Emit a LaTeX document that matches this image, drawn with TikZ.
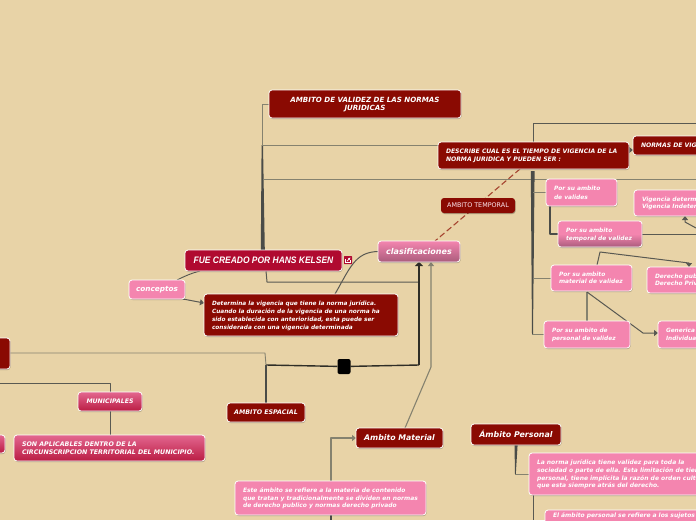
\documentclass[tikz,border=0pt]{standalone}
\usepackage{fontspec}
\setmainfont{DejaVu Sans}
\newfontfamily\liber{Liberation Sans}
\usetikzlibrary{arrows.meta,shadows,backgrounds}
\definecolor{paper}{HTML}{E8D3A7}
\definecolor{maroon}{HTML}{8A0A02}
\definecolor{rubyred}{HTML}{B00A30}
\definecolor{pinkbox}{HTML}{F485AF}
\definecolor{mauveend}{HTML}{AA5C7C}
\definecolor{wiregray}{HTML}{85826F}
\definecolor{wiredark}{HTML}{4A4C48}
\definecolor{dashred}{HTML}{A5432F}
\tikzset{
  x=1pt,y=-1pt,
  basebox/.style={rounded corners=3pt,draw=white,line width=.8pt,inner sep=0pt,outer sep=0pt,
    text=white,
    drop shadow={shadow xshift=.6pt,shadow yshift=-1pt,opacity=.25,fill=black}},
  fs/.style 2 args={font=\fontsize{#1}{#2}\selectfont\bfseries\itshape},
  darkbox/.style={basebox,fill=maroon},
  rubybox/.style={basebox,fill=rubyred},
  pinkb/.style={basebox,fill=pinkbox},
  softgrad/.style={basebox,top color=pinkbox,bottom color=mauveend,middle color=pinkbox},
  mauvegrad/.style={basebox,top color=pinkbox,bottom color=mauveend},
  rosegrad/.style={basebox,top color=pinkbox!75!rubyred,bottom color=rubyred!85!pinkbox},
  thinw/.style={draw=wiregray,line width=.9pt,line join=round},
  midw/.style={draw=wiredark!75!wiregray,line width=1pt,line join=round},
  darkw/.style={draw=wiredark,line width=1.6pt,line join=round},
  blackw/.style={draw=black!65!wiregray,line width=1.4pt,line join=round},
  tapered/.style={fill=wiredark,draw=none},
  tri/.style={-{Triangle[length=4pt,width=6pt]}},
  trib/.style={-{Triangle[length=4pt,width=8pt]}},
}
\newcommand{\bx}[9]{% name, style, x1,y1,x2,y2, inset, l/c, text
  \pgfmathsetmacro{\bxw}{#5-#3-2*#7}%
  \node[#2,minimum width={#5-#3},minimum height={#6-#4}] (#1)
    at ({(#3+#5)/2},{(#4+#6)/2})
    {\raisebox{-.8pt}[\height][\depth]{\makebox[\bxw pt][#8]{\begin{tabular}{@{}#8@{}}#9\end{tabular}}}};}
\begin{document}
\begin{tikzpicture}
\useasboundingbox (0,0) rectangle (696,520);
\clip (0,0) rectangle (696,520);
\begin{scope}[on background layer]
\fill[paper] (0,0) rectangle (696,520);
\end{scope}

\bx{avj}{darkbox,fs={7.1}{8.8}}{269}{90}{461}{118}{6}{c}{AMBITO DE VALIDEZ DE LAS NORMAS\\JURIDICAS}
\bx{desc}{darkbox,fs={6.1}{8}}{438}{142}{629}{169}{8}{l}{DESCRIBE CUAL ES EL TIEMPO DE VIGENCIA DE LA\\NORMA JURIDICA Y PUEDEN SER :}
\bx{normas}{darkbox,fs={6.1}{8}}{633}{136}{760}{155}{8}{l}{NORMAS DE VIGENCIA}
\node[darkbox,draw=none,minimum width=74pt,minimum height=15pt,font=\fontsize{6.4}{7}\selectfont,text=white!80!pinkbox] (atemp) at (478,205.5) {AMBITO TEMPORAL};
\bx{clas}{mauvegrad,fs={8}{10}}{378}{241}{460}{262}{2}{c}{clasificaciones}
\bx{fue}{rubybox,font=\liber\fontsize{9.4}{11}\selectfont\bfseries\itshape}{185}{250}{342}{271}{2}{c}{\scalebox{.9}[1]{FUE CREADO POR HANS KELSEN}}
\bx{conc}{pinkb,fs={7.3}{8}}{129}{280}{185}{299}{2}{c}{conceptos}
\bx{det}{darkbox,fs={5.8}{7.8}}{204}{294}{398}{336}{8}{l}{Determina la vigencia que tiene la norma jurídica.\\Cuando la duración de la vigencia de una norma ha\\sido establecida con anterioridad, esta puede ser\\considerada con una vigencia determinada}
\bx{pv}{pinkb,fs={5.9}{8.2}}{546}{179}{617}{206}{8}{l}{Por su ambito\\de valides}
\bx{vig}{pinkb,fs={5.9}{7}}{634}{190}{770}{216}{8}{l}{Vigencia determinada\\Vigencia Indeterminada}
\bx{pt}{softgrad,fs={5.9}{8}}{558}{221}{642}{247}{8}{l}{Por su ambito\\temporal de validez}
\bx{pm}{pinkb,fs={5.9}{7.4}}{551}{265}{632}{291}{8}{l}{Por su ambito\\material de validez}
\bx{dp}{pinkb,fs={5.9}{7.2}}{647}{267}{760}{293}{8}{l}{Derecho publico\\Derecho Privado}
\bx{pp}{pinkb,fs={5.8}{8}}{544}{321}{630}{348}{8}{l}{Por su ambito de\\personal de validez}
\bx{gen}{pinkb,fs={5.8}{8}}{658}{321}{760}{348}{8}{l}{Generica\\Individual}
\bx{lft}{darkbox,fs={6.4}{8}}{-30}{338}{10}{369}{2}{c}{\mbox{}}
\bx{mun}{rosegrad,fs={6.2}{7}}{78}{392}{142}{411}{2}{c}{MUNICIPALES}
\bx{stub}{rosegrad,fs={6.2}{7}}{-20}{435}{5}{453}{2}{c}{\mbox{}}
\bx{son}{rosegrad,fs={6.3}{7.6}}{14}{435}{205}{461}{8}{l}{SON APLICABLES DENTRO DE LA\\CIRCUNSCRIPCION TERRITORIAL DEL MUNICIPIO.}
\bx{esp}{darkbox,fs={6.3}{7}}{227}{403}{305}{422}{2}{c}{AMBITO ESPACIAL}
\bx{mat}{darkbox,fs={7.8}{9}}{356}{428}{443}{448}{2}{c}{Ambito Material}
\bx{per}{darkbox,fs={7.9}{9}}{471}{424}{561}{445}{2}{c}{Ámbito Personal}
\bx{este}{pinkb,fs={5.95}{7.5}}{235}{481}{426}{515}{8}{l}{Este ámbito se refiere a la materia de contenido\\que tratan y tradicionalmente se dividen en normas\\de derecho publico y normas derecho privado}
\bx{lan}{pinkb,fs={6}{7.6}}{529}{453}{730}{495}{8}{l}{La norma jurídica tiene validez para toda la\\sociedad o parte de ella. Esta limitación de tiempo\\personal, tiene implícita la razón de orden cultural\\que esta siempre atrás del derecho.}
\node[softgrad,fs={6}{7.5},minimum width=215pt,minimum height=30pt,anchor=north west,text width=199pt,align=left,text depth=20pt] (ela) at (545,510) {El ámbito personal se refiere a los sujetos};
\node[rounded corners=2pt,fill=black,minimum width=13pt,minimum height=15pt,inner sep=0pt] (sq) at (344,366.5) {};
\node[rounded corners=.5pt,fill=rubyred,minimum size=8pt,inner sep=0pt] (ico) at (348,260) {};
\draw[white,line width=.7pt] (345.8,259) -- (345.8,262.2) -- (350.2,262.2) -- (350.2,260);
\draw[white,line width=.7pt,-{Latex[length=2pt,width=2.5pt]}] (347,261) -- (350.4,257.6);

\begin{scope}[on background layer]
\coordinate (r179) at (696,179);
\coordinate (r123) at (696,123);
\coordinate (r234) at (696,234);
\coordinate (e353) at (265,353);
\coordinate (jsp) at (266,365);
\coordinate (jcl) at (419,365);
\coordinate (l383) at (0,383);
\coordinate (tree) at (533,123);
% tree left of the validity node
\draw[thinw] (avj.west) -- ++(-7,0) coordinate (a1) -- (a1 |- fue.north);
\fill[tapered] (261.6,145) -- (263,145) -- (264.8,250) -- (260.8,250) -- cycle;
\draw[thinw] (262,145) -- (desc.west |- 0,145);
\draw[thinw] (263,179) -- (r179);
% fue to clasificaciones
\draw[midw] (fue.south -| 266,0) -- (267,282) -- (418,282);
\draw[blackw,trib] (jcl) -- (clas.south -| jcl);
\draw[blackw] (jcl) -- (sq);
\draw[blackw] (sq) -- (jsp);
\draw[darkw] (jsp) -- (esp.north -| jsp);
\draw[thinw] (lft.east |- e353) -- (e353) -- (jsp);
% municipales
\draw[midw] (l383) -- (110,383) -- (mun.north);
\draw[midw] (mun.south) -- (son.north -| mun);
% material
\draw[thinw,line width=1.1pt,tri] (mat.north -| 405,0) -- (431,367) -- (clas.south -| 431,0);
\draw[thinw,line width=1.1pt,tri] (este.north -| 331,0) -- (331,438) -- (mat.west);
\draw[darkw] (este.south -| 331,0) -- (331,520);
% personal
\fill[tapered] (514.5,445) -- (517.6,445) -- (515.8,474) -- (515,474) -- cycle;
\draw[thinw] (515.2,474) -- (lan.west |- 0,474);
\draw[midw] (lan.south -| 533,0) -- (533,520);
% conceptos
\draw[wiredark!80!wiregray,line width=.9pt] (conc.north -| 177,0) .. controls (185,276) and (192,273) .. (fue.south -| 200,0);
\draw[midw,tri] (conc.south -| 183,0) -- (det.west |- 0,303);
\draw[midw] (det.north -| 335,0) .. controls (350,268) and (355,252) .. (clas.west);
% dashed
\draw[dashred,line width=1.1pt,dash pattern=on 6pt off 3pt] (desc.south -| 520,0) -- (clas.north -| 435,0);
% right tree
\draw[midw] (r123) -- (tree) -- (desc.north -| tree);
\fill[tapered] (530.8,171) -- (534.6,171) -- (533,334) -- (532,334) -- cycle;
\draw[thinw] (533,192) -- (pv.west |- 0,192);
\draw[thinw] (533,278) -- (pm.west |- 0,278);
\draw[thinw] (532,334) -- (pp.west |- 0,334);
\draw[midw,tri] (desc.east |- 0,150) -- (normas.west |- 0,150);
\draw[darkw] (pv.south -| 550,0) -- (550,234) -- (pt.west |- 0,234);
\draw[midw] (pt.east |- 0,234) -- (r234);
\draw[midw,tri] (r234 |- 0,228) -- (685,222) -- (vig.south -| 685,0);
\draw[midw,tri] (pm.north -| 597,0) -- (600,252) -- (689,263) -- (dp.north -| 689,0);
\draw[thinw,line width=1.1pt] (587,292) -- (pp.north -| 587,0);
\draw[midw,tri] (587,292) -- (643,333) -- (gen.west |- 0,333);
\end{scope}
\end{tikzpicture}
\end{document}
